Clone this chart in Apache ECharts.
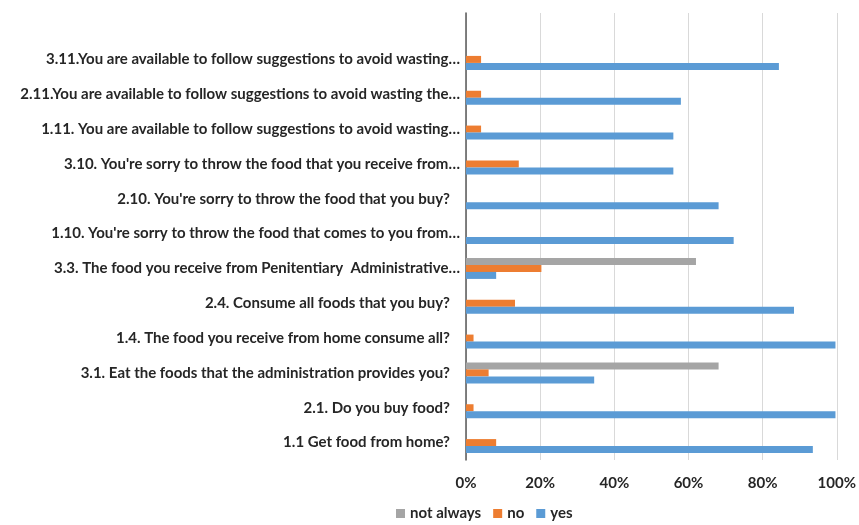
<!DOCTYPE html>
<html>
<head>
<meta charset="utf-8">
<script src="https://cdn.jsdelivr.net/npm/echarts@6/dist/echarts.min.js"></script>
<style>
  html, body { margin: 0; padding: 0; background: #fff; }
  #chart { width: 859px; height: 525px; }
</style>
</head>
<body>
<div id="chart"></div>
<script>
// Questions, listed top to bottom
const categories = [
  "3.11.You are available to follow suggestions to avoid wasting…",
  "2.11.You are available to follow suggestions to avoid wasting the…",
  "1.11. You are available to follow suggestions to avoid wasting…",
  "3.10. You're sorry to throw the food that you receive from…",
  "2.10. You're sorry to throw the food that you buy?",
  "1.10. You're sorry to throw the food that comes to you from…",
  "3.3. The food you receive from Penitentiary  Administrative…",
  "2.4. Consume all foods that you buy?",
  "1.4. The food you receive from home consume all?",
  "3.1. Eat the foods that the administration provides you?",
  "2.1. Do you buy food?",
  "1.1 Get food from home?"
];

// Share of answers (%)
const notAlways = [0, 0, 0, 0, 0, 0, 61, 0, 0, 67, 0, 0];
const no        = [4, 4, 4, 14, 0, 0, 20, 13, 2, 6, 2, 8];
const yes       = [83, 57, 55, 55, 67, 71, 8, 87, 98, 34, 98, 92];

const xTicks = [0, 20, 40, 60, 80, 100];

const FONT = "Lato, 'Open Sans', sans-serif";
const TEXT = "#262626";
const FS = 15;

const chart = echarts.init(document.getElementById('chart'), null, { renderer: 'canvas' });

chart.setOption({
  backgroundColor: '#ffffff',
  animation: false,
  color: ['#A5A5A5', '#ED7D31', '#5B9BD5'],
  legend: {
    top: 504,
    left: 391,
    padding: [2, 5, 2, 5],
    itemWidth: 9,
    itemHeight: 9,
    itemGap: 12,
    icon: 'rect',
    textStyle: { color: TEXT, fontFamily: FONT, fontWeight: 'bold', fontSize: FS },
    data: ['not always', 'no', 'yes']
  },
  grid: [
    // frame: gridlines, vertical axis and percent ticks
    { left: 466, right: 16, top: 13, bottom: 65 },
    // bars
    { left: 466, right: 16, top: 42, bottom: 65 }
  ],
  xAxis: [
    {
      gridIndex: 0, type: 'value', min: xTicks[0], max: xTicks[xTicks.length - 1], interval: 20,
      axisLine: { show: false }, axisTick: { show: false },
      splitLine: { show: true, lineStyle: { color: '#D9D9D9', width: 1 } },
      axisLabel: {
        margin: 16, color: TEXT, fontFamily: FONT, fontWeight: 'bold', fontSize: FS,
        formatter: v => v + '%'
      }
    },
    {
      gridIndex: 1, type: 'value', min: 0, max: 100, show: false
    }
  ],
  yAxis: [
    {
      gridIndex: 0, type: 'value', min: 0, max: 1,
      axisLine: { show: true, onZero: false, lineStyle: { color: '#595959', width: 1.5 } },
      axisTick: { show: false }, axisLabel: { show: false }, splitLine: { show: false }
    },
    {
      gridIndex: 1, type: 'category', inverse: true, data: categories,
      axisLine: { show: false }, axisTick: { show: false },
      axisLabel: {
        margin: 6, color: TEXT, fontFamily: FONT, fontWeight: 'bold', fontSize: FS,
        formatter: v => v.endsWith('?') ? '{q|' + v + '}' : v,
        rich: {
          q: { color: TEXT, fontFamily: FONT, fontWeight: 'bold', fontSize: FS, padding: [0, 10, 0, 0] }
        }
      }
    }
  ],
  series: [
    { name: 'not always', type: 'bar', xAxisIndex: 1, yAxisIndex: 1, data: notAlways, barWidth: 7, barGap: '0%' },
    { name: 'no',         type: 'bar', xAxisIndex: 1, yAxisIndex: 1, data: no,        barWidth: 7, barGap: '0%' },
    { name: 'yes',        type: 'bar', xAxisIndex: 1, yAxisIndex: 1, data: yes,       barWidth: 7, barGap: '0%' }
  ]
});
</script>
</body>
</html>
